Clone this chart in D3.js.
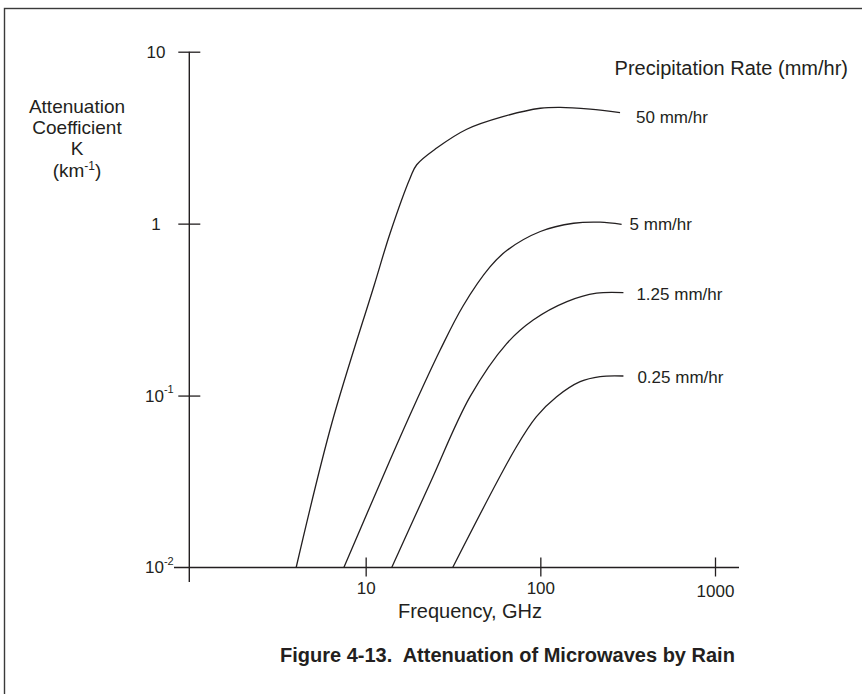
<!DOCTYPE html>
<html>
<head>
<meta charset="utf-8">
<script src="https://cdn.jsdelivr.net/npm/d3@7"></script>
<style>
  body { margin: 0; background: #fff; }
  svg { font-family: "Liberation Sans", Arial, sans-serif; fill: #231f20; }
</style>
</head>
<body>
<div id="box-div"></div>
<script>
// rain rate series, frequency in GHz, attenuation K in km^-1
const rates = ['50 mm/hr', '5 mm/hr', '1.25 mm/hr', '0.25 mm/hr']

const freq50 = [4.0, 6.4, 11.2, 13.8, 18, 19.6, 25.5, 37.9, 61, 100, 130, 193, 286]
const k50 = [0.01, 0.069, 0.44, 0.88, 1.85, 2.2, 2.75, 3.54, 4.19, 4.69, 4.75, 4.63, 4.42]

const freq5 = [7.5, 13.8, 18.7, 26.7, 36.1, 51.5, 64.5, 100, 155, 220, 292]
const k5 = [0.01, 0.0422, 0.0847, 0.184, 0.332, 0.56, 0.70, 0.90, 1.005, 1.02, 0.99]

const freq125 = [14.1, 23.4, 39.6, 64, 91, 142, 210, 299]
const k125 = [0.01, 0.031, 0.0985, 0.20, 0.275, 0.352, 0.394, 0.397]

const freq025 = [31.5, 73, 95, 124, 169, 220, 299]
const k025 = [0.01, 0.0504, 0.0754, 0.0985, 0.1205, 0.129, 0.130]

const xTicks = [10, 100, 1000]
const yTicks = [0.01, 0.1, 1, 10]
const yTickLabels = ['10', '10', '1', '10']
const yTickPowers = ['-2', '-1', '', '']

const series = [
  { name: rates[0], f: freq50, k: k50 },
  { name: rates[1], f: freq5, k: k5 },
  { name: rates[2], f: freq125, k: k125 },
  { name: rates[3], f: freq025, k: k025 }
]

// label offsets from the end of each curve
const labelShift = [[16, 4], [8, 0], [13, 1], [14, 1]]

const dms = { width: 862, height: 694 }
const ink = '#231f20'

const box = d3.select('#box-div').append('svg')
    .attr('width', dms.width)
    .attr('height', dms.height)

// outer frame
box.append('rect')
    .attr('x', 4.5)
    .attr('y', 8.5)
    .attr('width', 900)
    .attr('height', 800)
    .attr('fill', 'none')
    .attr('stroke', '#3a3a3a')
    .attr('stroke-width', 1.4)

const xScale = d3.scaleLog().domain([1, 1000]).range([191, 715])
const yScale = d3.scaleLog().domain([0.01, 10]).range([567.5, 51.7])

const axisX = 189.3

// y axis
const yAxis = box.append('g')
    .attr('transform', `translate(${axisX},0)`)
    .call(d3.axisLeft(yScale).tickValues(yTicks).tickFormat('').tickSizeOuter(0))

yAxis.select('.domain').remove()
yAxis.selectAll('.tick line')
    .attr('x1', (d, i) => i === 0 ? 0 : -11)
    .attr('x2', (d, i) => i === 0 ? 0 : 11)
    .attr('stroke', ink)
    .attr('stroke-width', 1.3)

yAxis.append('line')
    .attr('x1', 0).attr('x2', 0)
    .attr('y1', yScale(10)).attr('y2', yScale(0.01) + 14.5)
    .attr('stroke', ink)
    .attr('stroke-width', 1.4)

const yLabels = box.append('g')
    .attr('font-size', 17)
    .selectAll('text')
    .data(yTicks)
    .join('text')
    .attr('x', (d, i) => yTickPowers[i] ? 145 : 156)
    .attr('y', d => yScale(d))
    .attr('dy', '0.35em')
    .attr('text-anchor', (d, i) => yTickPowers[i] ? 'start' : 'middle')
    .attr('fill', ink)

yLabels.append('tspan').text((d, i) => yTickLabels[i])
yLabels.append('tspan')
    .attr('font-size', 11)
    .attr('dy', '-0.75em')
    .text((d, i) => yTickPowers[i] ? yTickPowers[i] : '')

// x axis
const xAxis = box.append('g')
    .attr('transform', `translate(0,${yScale(0.01)})`)
    .call(d3.axisBottom(xScale).tickValues(xTicks).tickFormat(d3.format('d')).tickSizeOuter(0))

xAxis.select('.domain').remove()
xAxis.append('line')
    .attr('x1', 174).attr('x2', 739)
    .attr('stroke', ink)
    .attr('stroke-width', 1.4)
xAxis.selectAll('.tick line')
    .attr('y1', -10).attr('y2', 9)
    .attr('stroke', ink)
    .attr('stroke-width', 1.3)
xAxis.selectAll('.tick text')
    .attr('y', 21)
    .attr('dy', '0.35em')
    .attr('font-size', 17)
    .attr('font-family', null)
    .attr('fill', ink)
xAxis.selectAll('.tick text').filter(d => d === 1000).attr('y', 24)

// curves
const lineGen = d3.line()
    .x(d => xScale(d[0]))
    .y(d => yScale(d[1]))
    .curve(d3.curveCatmullRom.alpha(0.5))

const curves = box.append('g')

series.forEach((s, i) => {
  const pts = s.f.map((f, j) => [f, s.k[j]])
  curves.append('path')
      .attr('d', lineGen(pts))
      .attr('fill', 'none')
      .attr('stroke', ink)
      .attr('stroke-width', 1.3)

  const last = pts[pts.length - 1]
  curves.append('text')
      .attr('x', xScale(last[0]) + labelShift[i][0])
      .attr('y', yScale(last[1]) + labelShift[i][1])
      .attr('dy', '0.35em')
      .attr('font-size', 17)
      .attr('fill', ink)
      .text(s.name)
})

// titles
box.append('text')
    .attr('x', 848)
    .attr('y', 68)
    .attr('dy', '0.35em')
    .attr('text-anchor', 'end')
    .attr('font-size', 20)
    .attr('fill', ink)
    .text('Precipitation Rate (mm/hr)')

const yTitle = box.append('text')
    .attr('text-anchor', 'middle')
    .attr('font-size', 19)
    .attr('fill', ink)
yTitle.append('tspan').attr('x', 77).attr('y', 113).text('Attenuation')
yTitle.append('tspan').attr('x', 77).attr('y', 134).text('Coefficient')
yTitle.append('tspan').attr('x', 77).attr('y', 155).text('K')
const unit = yTitle.append('tspan').attr('x', 77).attr('y', 177)
unit.append('tspan').text('(km')
unit.append('tspan').attr('font-size', 12).attr('dy', -7).text('-1')
unit.append('tspan').attr('dy', 7).text(')')

box.append('text')
    .attr('x', 470)
    .attr('y', 611)
    .attr('dy', '0.35em')
    .attr('text-anchor', 'middle')
    .attr('font-size', 20)
    .attr('fill', ink)
    .text('Frequency, GHz')

box.append('text')
    .attr('x', 280)
    .attr('y', 655)
    .attr('dy', '0.35em')
    .attr('font-size', 20)
    .attr('font-weight', 'bold')
    .style('white-space', 'pre')
    .attr('fill', ink)
    .text('Figure 4-13.  Attenuation of Microwaves by Rain')
</script>
</body>
</html>
